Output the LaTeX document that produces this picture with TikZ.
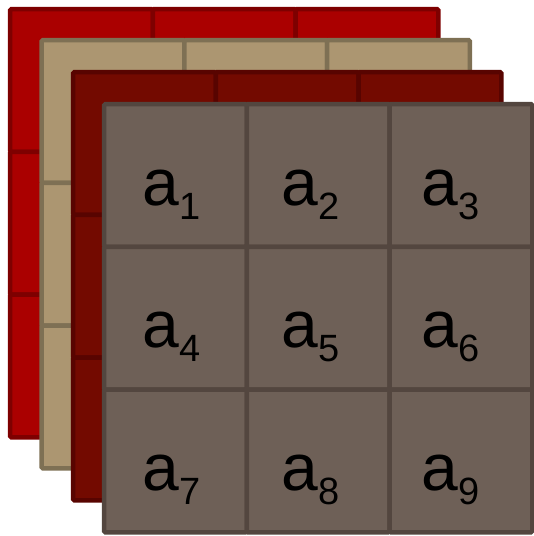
\documentclass[tikz,border=0pt]{standalone}
\usepackage{fontspec}
\setmainfont{Liberation Sans}
\usetikzlibrary{calc}
\definecolor{layerred}{RGB}{170,0,0}
\definecolor{layerredline}{RGB}{126,0,0}
\definecolor{layertan}{RGB}{172,150,113}
\definecolor{layertanline}{RGB}{126,112,84}
\definecolor{layerdark}{RGB}{115,10,0}
\definecolor{layerdarkline}{RGB}{88,4,0}
\definecolor{layergrey}{RGB}{110,96,87}
\definecolor{layergreyline}{RGB}{83,70,63}
\newcommand{\subidx}[1]{\raisebox{-14pt}{\fontsize{38}{38}\selectfont #1}}
\tikzset{
  cell/.style={draw, line width=4.5pt, rounded corners=1.5pt, minimum size=142.8pt,
    inner sep=0pt, outer sep=0pt, anchor=north west},
  celltext/.style={font=\fontsize{66}{66}\selectfont, inner sep=0pt, anchor=base west}
}
\begin{document}
\begin{tikzpicture}[x=1pt,y=-1pt]
  \useasboundingbox (0,0) rectangle (534,536);
  % four stacked 3x3 layers, back to front
  \foreach \k/\fillc/\drawc/\ox/\oy in {0/layerred/layerredline/10/9,
      1/layertan/layertanline/41.5/40, 2/layerdark/layerdarkline/73/72,
      3/layergrey/layergreyline/104/104}{
    \foreach \r in {0,1,2}{
      \foreach \c in {0,1,2}{
        \node[cell, fill=\fillc, draw=\drawc] (L\k-\r-\c) at (\ox+142.8*\c, \oy+142.8*\r) {};
      }
    }
  }
  % labels on the front layer
  \foreach \n/\r/\c/\dx in {1/0/0/38.5, 2/0/1/34.5, 3/0/2/32, 4/1/0/38.5, 5/1/1/34.5,
      6/1/2/32, 7/2/0/38.5, 8/2/1/34.5, 9/2/2/32}{
    \node[celltext] (a\n) at ($(L3-\r-\c.north west)+(\dx,101)$) {a\subidx{\n}};
  }
\end{tikzpicture}
\end{document}
